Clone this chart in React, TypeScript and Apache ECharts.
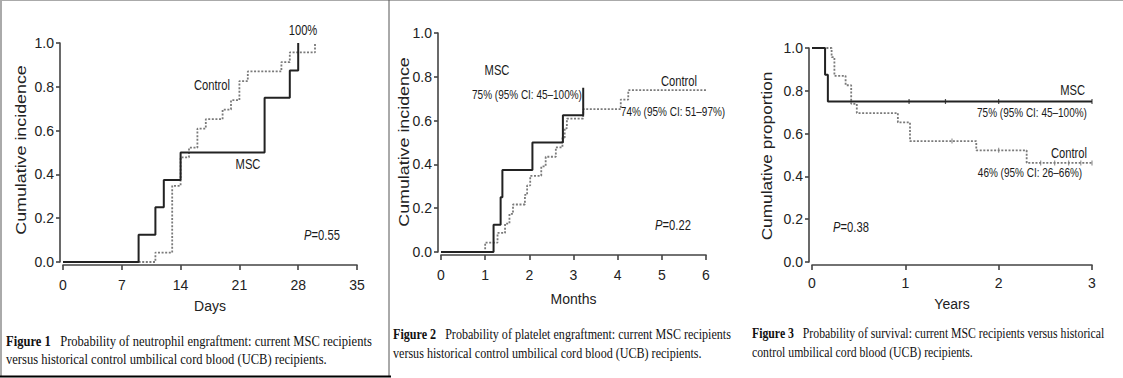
import React, { useEffect, useRef } from "react";
import * as echarts from "echarts";

// ---------- data ----------
// Figure 1: neutrophil engraftment (days)
const daysTicks = { min: 0, max: 35, interval: 7 };
const neutroMSC: number[][] = [
  [0, 0], [9, 0.125], [11, 0.25], [12, 0.375], [14, 0.5], [24, 0.75], [27, 0.875], [28, 1.0],
];
const neutroControl: number[][] = [
  [0, 0], [11, 0.043], [13, 0.348], [14, 0.478], [15, 0.522], [16, 0.609], [17, 0.652],
  [19, 0.696], [20, 0.739], [21, 0.826], [22, 0.87], [26, 0.913], [27, 0.957], [30, 1.0],
];

// Figure 2: platelet engraftment (months)
const monthsTicks = { min: 0, max: 6, interval: 1 };
const plateletMSC: number[][] = [
  [0, 0], [1.19, 0.125], [1.35, 0.25], [1.39, 0.375], [2.07, 0.5], [2.76, 0.625], [3.22, 0.75],
];
const plateletControl: number[][] = [
  [0, 0], [1.0, 0.043], [1.28, 0.087], [1.45, 0.13], [1.55, 0.174], [1.63, 0.217],
  [1.9, 0.261], [1.95, 0.304], [2.02, 0.348], [2.27, 0.391], [2.37, 0.435], [2.6, 0.478],
  [2.75, 0.522], [2.8, 0.565], [2.85, 0.609], [3.22, 0.652], [4.07, 0.696], [4.24, 0.739],
  [6.0, 0.739],
];

// Figure 3: survival (years)
const yearsTicks = { min: 0, max: 3, interval: 1 };
const survivalMSC: number[][] = [[0, 1], [0.14, 0.875], [0.17, 0.75], [3.0, 0.75]];
const survivalControl: number[][] = [
  [0, 1], [0.21, 0.957], [0.24, 0.87], [0.36, 0.826], [0.42, 0.739], [0.48, 0.696],
  [0.92, 0.652], [1.05, 0.565], [1.76, 0.522], [2.3, 0.463], [3.0, 0.463],
];
const survivalMSCCensor: number[][] = [[1.04, 0.75], [1.43, 0.75], [2.0, 0.75], [3.0, 0.75]];
const survivalControlCensor: number[][] = [
  [1.5, 0.565], [2.0, 0.522], [2.45, 0.463], [2.6, 0.463], [2.75, 0.463], [2.88, 0.463], [3.0, 0.463],
];

const yTicks = { min: 0, max: 1, interval: 0.2 };

// ---------- styles ----------
const SANS = "'Liberation Sans', Arial, Helvetica, sans-serif";
const SERIF = "'Liberation Serif', 'Times New Roman', serif";
const AXIS = "#444";
const SOLID = "#222";
const DOT = "#7a7a7a";
const NARROW_SCALE = 0.8;

const grids = [
  { left: 63, top: 43, width: 294, height: 219 },
  { left: 441, top: 33, width: 265, height: 219 },
  { left: 812, top: 48, width: 280, height: 214 },
];

function xAxis(i: number, t: any, name: string, nameGap: number, margin: number) {
  return {
    type: "value", gridIndex: i, min: t.min, max: t.max, interval: t.interval, offset: 3,
    name, nameLocation: "middle", nameGap,
    nameTextStyle: { fontFamily: SANS, fontSize: 14, color: "#222" },
    axisLine: { show: true, onZero: false, lineStyle: { color: AXIS, width: 1.6 } },
    axisTick: { show: true, length: 5, lineStyle: { color: AXIS, width: 1.6 } },
    axisLabel: { fontFamily: SANS, fontSize: 14, color: "#222", margin },
    splitLine: { show: false },
  };
}
function yAxis(i: number) {
  return {
    type: "value", gridIndex: i, min: yTicks.min, max: yTicks.max, interval: yTicks.interval, offset: 3,
    axisLine: { show: true, onZero: false, lineStyle: { color: AXIS, width: 1.6 } },
    axisTick: { show: true, length: 4, lineStyle: { color: AXIS, width: 1.6 } },
    axisLabel: { fontFamily: SANS, fontSize: 14, color: "#222", margin: 6, formatter: (v: number) => v.toFixed(1) },
    splitLine: { show: false },
  };
}
function stepLine(i: number, data: number[][], dotted: boolean) {
  return {
    type: "line", xAxisIndex: i, yAxisIndex: i, data, step: "end", symbol: "none",
    lineStyle: dotted
      ? { color: DOT, width: 1.8, type: [2, 1.6] }
      : { color: SOLID, width: 2 },
    z: dotted ? 2 : 3,
  };
}
function censor(i: number, data: number[][], color: string) {
  return {
    type: "scatter", xAxisIndex: i, yAxisIndex: i, data, symbol: "rect", symbolSize: [1.2, 5],
    itemStyle: { color }, z: 4,
  };
}

function label(text: string, x: number, y: number, size: number, align = "center", rich?: any) {
  return {
    type: "text", x, y, scaleX: NARROW_SCALE, silent: true,
    style: {
      text, font: `${size}px ${SANS}`, fill: "#1a1a1a",
      textAlign: align, textVerticalAlign: "middle",
      rich,
    },
  };
}
function pLabel(val: string, x: number, y: number, size: number) {
  return label(`{i|P}=${val}`, x, y, size, "center", {
    i: { fontStyle: "italic", fontFamily: SANS, fontSize: size, fill: "#1a1a1a" },
  });
}
function yName(text: string, x: number, y: number, scale: number) {
  return {
    type: "text", x, y, rotation: Math.PI / 2, scaleX: scale, silent: true,
    style: { text, font: `15px ${SANS}`, fill: "#222", textAlign: "center", textVerticalAlign: "middle" },
  };
}
function caption(num: string, rest: string, line2: string, x: number, y1: number, y2: number, sx: number) {
  const fs = 15;
  const rich = { b: { fontWeight: "bold", fontFamily: SERIF, fontSize: fs, fill: "#111" } };
  return [
    {
      type: "text", x, y: y1, scaleX: sx, silent: true,
      style: { text: `{b|${num}}   ${rest}`, font: `${fs}px ${SERIF}`, fill: "#111", textAlign: "left", textVerticalAlign: "middle", rich },
    },
    {
      type: "text", x, y: y2, scaleX: sx, silent: true,
      style: { text: line2, font: `${fs}px ${SERIF}`, fill: "#111", textAlign: "left", textVerticalAlign: "middle" },
    },
  ];
}

export default function App() {
  const ref = useRef<HTMLDivElement>(null);
  useEffect(() => {
    if (!ref.current) return;
    const chart = echarts.init(ref.current, undefined, { renderer: "svg" });
    chart.setOption({
      animation: false,
      backgroundColor: "#fff",
      grid: grids.map((g) => ({ ...g, containLabel: false })),
      xAxis: [
        xAxis(0, daysTicks, "Days", 34, 13),
        xAxis(1, monthsTicks, "Months", 37, 13),
        xAxis(2, yearsTicks, "Years", 32, 11),
      ],
      yAxis: [yAxis(0), yAxis(1), yAxis(2)],
      series: [
        stepLine(0, neutroControl, true),
        stepLine(0, neutroMSC, false),
        stepLine(1, plateletControl, true),
        stepLine(1, plateletMSC, false),
        stepLine(2, survivalControl, true),
        stepLine(2, survivalMSC, false),
        censor(2, survivalMSCCensor, SOLID),
        censor(2, survivalControlCensor, DOT),
      ],
      graphic: [
        // frame lines
        { type: "line", shape: { x1: 0, y1: 0.5, x2: 1123, y2: 0.5 }, style: { stroke: "#aaa", lineWidth: 1 } },
        { type: "line", shape: { x1: 1, y1: 0, x2: 1, y2: 376 }, style: { stroke: "#aaa", lineWidth: 2 } },
        { type: "line", shape: { x1: 389, y1: 0, x2: 389, y2: 377 }, style: { stroke: "#555", lineWidth: 1 } },
        { type: "line", shape: { x1: 0, y1: 376.5, x2: 391, y2: 376.5 }, style: { stroke: "#000", lineWidth: 2 } },
        // y axis names
        yName("Cumulative incidence", 21, 150, 1.19),
        yName("Cumulative incidence", 404, 142, 1.19),
        yName("Cumulative proportion", 766, 156, 1.15),
        // panel 1 labels
        label("100%", 303, 31, 14),
        label("Control", 212, 86, 14),
        label("MSC", 248, 165, 14),
        pLabel("0.55", 322, 236, 14),
        // panel 2 labels
        label("MSC", 497, 71, 14),
        label("75% (95% CI: 45–100%)", 527, 95, 12.5),
        label("Control", 679, 82, 14),
        label("74% (95% CI: 51–97%)", 673, 112, 12.5),
        pLabel("0.22", 673, 226, 14),
        // panel 3 labels
        label("MSC", 1085, 91, 14, "right"),
        label("75% (95% CI: 45–100%)", 1032, 113, 12.5),
        label("Control", 1087, 154, 14, "right"),
        label("46% (95% CI: 26–66%)", 1030, 173, 12.5),
        pLabel("0.38", 851, 228, 14),
        // captions
        ...caption("Figure 1", "Probability of neutrophil engraftment: current MSC recipients",
          "versus historical control umbilical cord blood (UCB) recipients.", 6, 341, 359, 0.837),
        ...caption("Figure 2", "Probability of platelet engraftment: current MSC recipients",
          "versus historical control umbilical cord blood (UCB) recipients.", 393, 334, 353, 0.806),
        ...caption("Figure 3", "Probability of survival: current MSC recipients versus historical",
          "control umbilical cord blood (UCB) recipients.", 752, 333, 352, 0.785),
      ],
    });
    return () => chart.dispose();
  }, []);
  return (
    <div
      ref={ref}
      style={{ position: "absolute", left: 0, top: 0, width: 1123, height: 378, background: "#fff" }}
    />
  );
}
